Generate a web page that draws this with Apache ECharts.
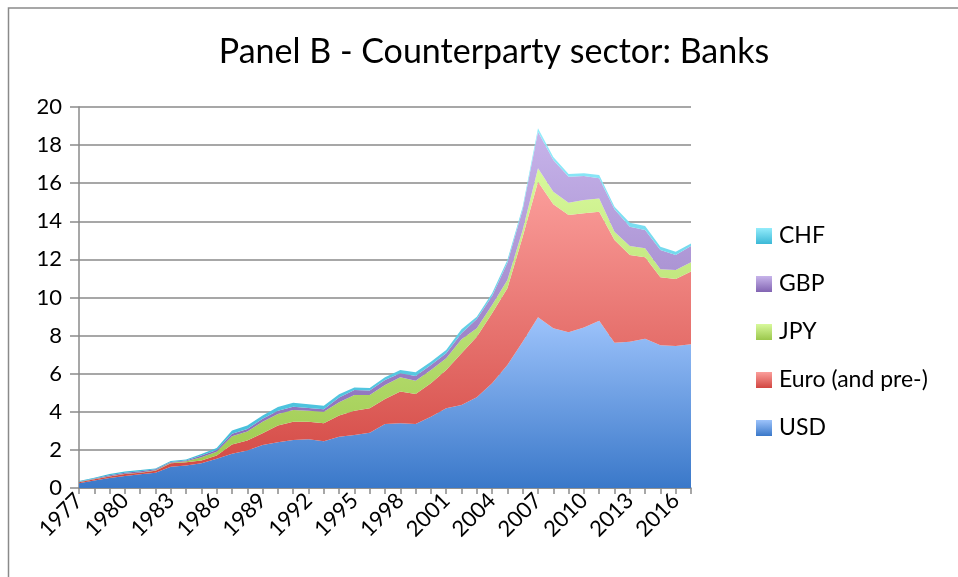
<!DOCTYPE html>
<html>
<head>
<meta charset="utf-8">
<script src="https://cdn.jsdelivr.net/npm/echarts@6/dist/echarts.min.js"></script>
<style>
  html, body { margin: 0; padding: 0; background: #ffffff; }
  #chart { width: 958px; height: 577px; }
</style>
</head>
<body>
<div id="chart"></div>
<script>
// Years on the category axis
const years = [];
for (let y = 1977; y <= 2017; y++) years.push(String(y));

// Stacked exposures by currency (counterparty sector: banks)
const usd = [0.25, 0.40, 0.52, 0.63, 0.72, 0.80, 1.12, 1.18, 1.30, 1.54,
             1.80, 1.97, 2.26, 2.40, 2.52, 2.56, 2.45, 2.69, 2.78, 2.90,
             3.36, 3.40, 3.36, 3.74, 4.18, 4.36, 4.76, 5.50, 6.46, 7.68,
             8.96, 8.38, 8.17, 8.43, 8.78, 7.63, 7.68, 7.84, 7.49, 7.45, 7.54];
const euro = [0.05, 0.06, 0.08, 0.10, 0.08, 0.11, 0.18, 0.17, 0.15, 0.16,
              0.48, 0.53, 0.62, 0.88, 0.96, 0.92, 0.95, 1.11, 1.28, 1.28,
              1.31, 1.66, 1.57, 1.76, 2.01, 2.71, 3.18, 3.67, 4.02, 5.51,
              7.12, 6.52, 6.16, 5.99, 5.72, 5.39, 4.55, 4.27, 3.57, 3.52, 3.82];
const jpy = [0.01, 0.01, 0.02, 0.02, 0.02, 0.02, 0.02, 0.05, 0.17, 0.20,
             0.44, 0.46, 0.60, 0.60, 0.61, 0.58, 0.60, 0.70, 0.82, 0.70,
             0.74, 0.75, 0.70, 0.69, 0.62, 0.74, 0.44, 0.43, 0.44, 0.35,
             0.70, 0.65, 0.65, 0.70, 0.70, 0.43, 0.47, 0.47, 0.42, 0.47, 0.49];
const gbp = [0.02, 0.03, 0.05, 0.05, 0.06, 0.05, 0.04, 0.04, 0.08, 0.10,
             0.13, 0.14, 0.16, 0.18, 0.18, 0.14, 0.13, 0.25, 0.26, 0.24,
             0.26, 0.21, 0.25, 0.27, 0.26, 0.31, 0.49, 0.48, 0.91, 1.08,
             1.92, 1.67, 1.36, 1.26, 1.06, 1.18, 1.02, 0.96, 1.01, 0.79, 0.85];
const chf = [0.04, 0.04, 0.06, 0.06, 0.06, 0.05, 0.06, 0.06, 0.08, 0.10,
             0.17, 0.18, 0.17, 0.19, 0.21, 0.19, 0.19, 0.17, 0.13, 0.13,
             0.14, 0.17, 0.19, 0.17, 0.17, 0.21, 0.12, 0.14, 0.14, 0.15,
             0.18, 0.15, 0.14, 0.14, 0.17, 0.14, 0.21, 0.21, 0.18, 0.17, 0.14];

const yTicks = { min: 0, max: 20, step: 2 };

const FONT = 'Lato, "Open Sans", sans-serif';

function grad(top, bottom) {
  return new echarts.graphic.LinearGradient(0, 0, 0, 1, [
    { offset: 0, color: top },
    { offset: 1, color: bottom }
  ]);
}

function layer(name, data, top, bottom) {
  return {
    name: name,
    type: 'line',
    stack: 'total',
    data: data,
    symbol: 'none',
    lineStyle: { width: 0 },
    itemStyle: { color: grad(top, bottom) },
    areaStyle: { color: grad(top, bottom), opacity: 1 },
    emphasis: { disabled: true }
  };
}

const chart = echarts.init(document.getElementById('chart'), null, { renderer: 'canvas' });

chart.setOption({
  animation: false,
  backgroundColor: '#ffffff',
  title: {
    text: 'Panel B - Counterparty sector: Banks',
    left: 489,
    textAlign: 'center',
    top: 30,
    textStyle: { fontFamily: FONT, fontSize: 34, fontWeight: 'normal', color: '#000000' }
  },
  graphic: [{
    type: 'rect',
    shape: { x: 8.5, y: 8, width: 960, height: 580 },
    style: { fill: 'none', stroke: '#8a8a8a', lineWidth: 1.5 },
    silent: true
  }],
  legend: {
    orient: 'vertical',
    left: 756,
    top: 223,
    padding: 0,
    itemWidth: 16,
    itemHeight: 16,
    itemGap: 22,
    icon: 'rect',
    data: ['CHF', 'GBP', 'JPY', 'Euro (and pre-)', 'USD'],
    textStyle: { fontFamily: FONT, fontSize: 23, lineHeight: 26, color: '#000000', padding: [0, 0, 0, 2] }
  },
  grid: { left: 79, right: 267, top: 107, bottom: 89, containLabel: false },
  xAxis: {
    type: 'category',
    data: years,
    boundaryGap: false,
    axisLine: { show: true, lineStyle: { color: '#8a8a8a', width: 1.5 } },
    axisTick: { show: true, interval: 0, length: 6, lineStyle: { color: '#8a8a8a', width: 1.5 } },
    axisLabel: {
      interval: 2,
      rotate: 45,
      margin: 9,
      fontFamily: FONT,
      fontSize: 22,
      color: '#000000'
    },
    splitLine: { show: false }
  },
  yAxis: {
    type: 'value',
    min: yTicks.min,
    max: yTicks.max,
    interval: yTicks.step,
    axisLine: { show: true, lineStyle: { color: '#8a8a8a', width: 1.5 } },
    axisTick: { show: true, inside: false, length: 9, lineStyle: { color: '#8a8a8a', width: 1.5 } },
    axisLabel: { fontFamily: FONT, fontSize: 22, color: '#000000', margin: 17 },
    splitLine: { show: true, lineStyle: { color: '#8a8a8a', width: 1.5 } }
  },
  series: [
    layer('USD', usd, '#9dc3fb', '#3a78c9'),
    layer('Euro (and pre-)', euro, '#fb9e9b', '#d24641'),
    layer('JPY', jpy, '#d8f99c', '#9bc74c'),
    layer('GBP', gbp, '#c7b4ea', '#8264b2'),
    layer('CHF', chf, '#93ecfb', '#3bb8d6')
  ]
});
</script>
</body>
</html>
